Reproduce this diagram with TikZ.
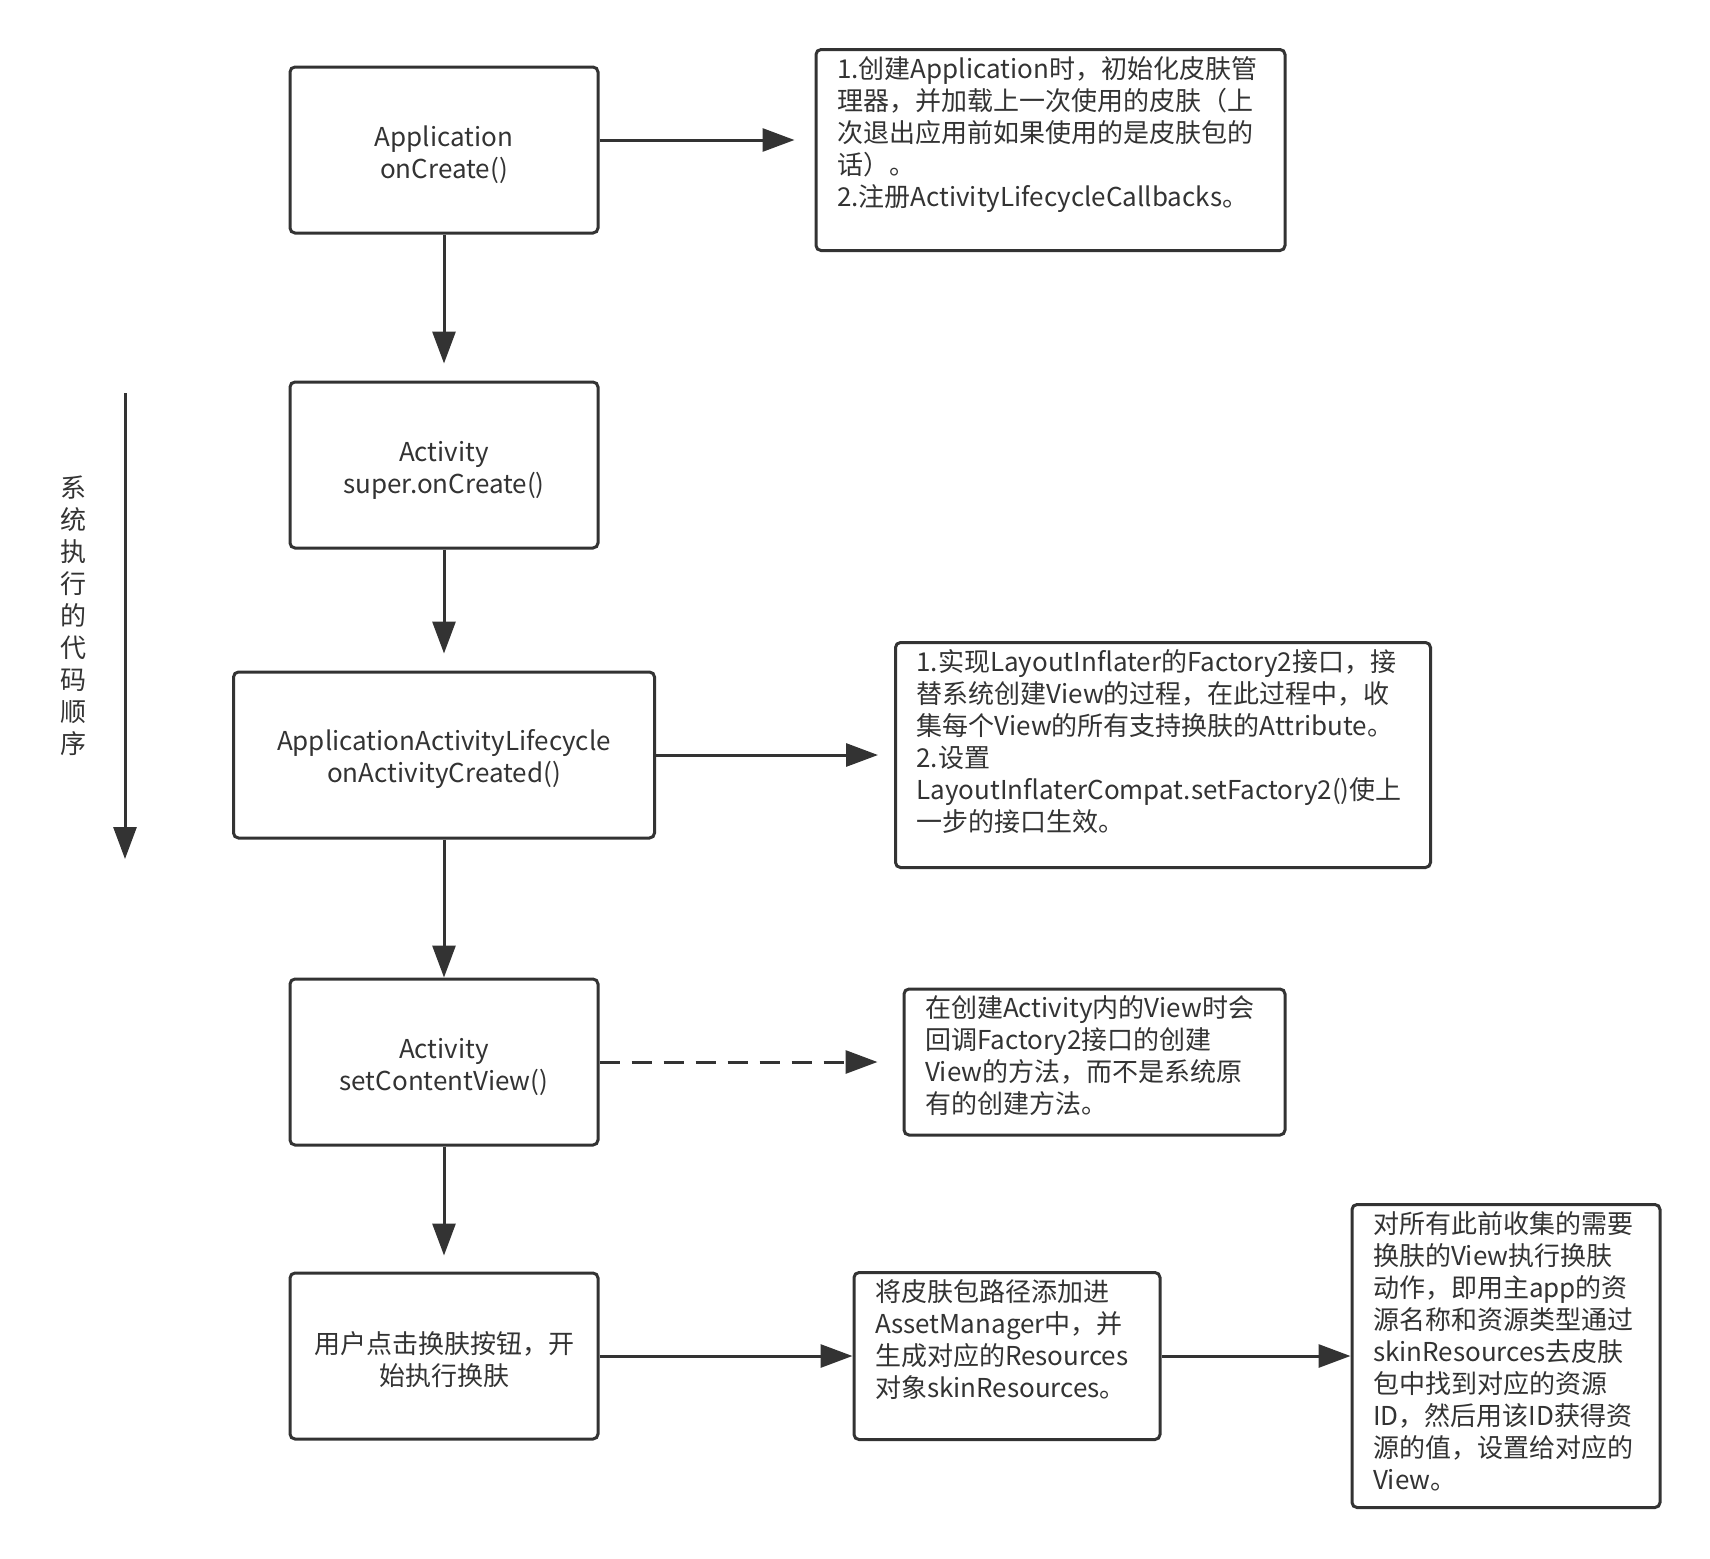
\documentclass[tikz,border=0pt]{standalone}
\usepackage{fontspec}
\setmainfont{Noto Sans CJK SC}
\usetikzlibrary{arrows.meta, positioning}
\definecolor{linegray}{RGB}{51,51,51}
\newcommand{\notetext}[3]{\parbox[c][#2][t]{#1}{\raggedright #3}}
\newcommand{\toppad}{\rule{0pt}{30pt}}

\begin{document}
\begin{tikzpicture}[
    x=1pt, y=-1pt,
    font=\fontsize{26pt}{32pt}\selectfont,
    text=linegray,
    block/.style={rectangle, draw=linegray, line width=3pt, rounded corners=5pt, minimum width=308pt, minimum height=166pt, align=center},
    note/.style={rectangle, draw=linegray, line width=3pt, rounded corners=5pt, inner xsep=21pt, inner ysep=7pt},
    arrow/.style={-{Triangle[length=32pt, width=23pt]}, line width=3pt, draw=linegray}
]
    \useasboundingbox (0,0) rectangle (1710,1558);

    % Main column: call order
    \node[block] (app) at (444,150) {\toppad Application\\onCreate()};
    \node[block, below=146pt of app] (activity) {\toppad Activity\\super.onCreate()};
    \node[block, below=121pt of activity, minimum width=421pt] (lifecycle) {\toppad ApplicationActivityLifecycle\\onActivityCreated()};
    \node[block, below=138pt of lifecycle] (setcv) {\toppad Activity\\setContentView()};
    \node[block, below=125pt of setcv] (userclick) {\toppad 用户点击换肤按钮，开\\始执行换肤};

    % Notes on the right
    \node[note, right=215pt of app] (initnote) {\notetext{427pt}{187pt}{1.创建Application时，初始化皮肤管\\理器，并加载上一次使用的皮肤（上\\次退出应用前如果使用的是皮肤包的\\话）。\\2.注册ActivityLifecycleCallbacks。}};
    \node[note, right=238pt of lifecycle] (layoutnote) {\notetext{493pt}{211pt}{1.实现LayoutInflater的Factory2接口，接\\替系统创建View的过程，在此过程中，收\\集每个View的所有支持换肤的Attribute。\\2.设置\\LayoutInflaterCompat.setFactory2()使上\\一步的接口生效。}};
    \node[note, right=303pt of setcv] (factorynote) {\notetext{339pt}{132pt}{在创建Activity内的View时会\\回调Factory2接口的创建\\View的方法，而不是系统原\\有的创建方法。}};
    \node[note, right=253pt of userclick] (resnote) {\notetext{264pt}{153pt}{将皮肤包路径添加进\\AssetManager中，并\\生成对应的Resources\\对象skinResources。}};
    \node[note, right=189pt of resnote] (applynote) {\notetext{266pt}{289pt}{对所有此前收集的需要\\换肤的View执行换肤\\动作，即用主app的资\\源名称和资源类型通过\\skinResources去皮肤\\包中找到对应的资源\\ID，然后用该ID获得资\\源的值，设置给对应的\\View。}};

    % Order arrow on the left
    \coordinate (seqtop) at (125,393);
    \coordinate (seqend) at (125,859);
    \node[align=center] (seqlabel) at (73,616) {系\\统\\执\\行\\的\\代\\码\\顺\\序};

    % Connections
    \draw[arrow] (seqtop) -- (seqend);
    \draw[arrow, shorten >=17pt] (app) -- (activity);
    \draw[arrow, shorten >=17pt] (activity) -- (lifecycle);
    \draw[arrow] (lifecycle) -- (setcv);
    \draw[arrow, shorten >=16pt] (setcv) -- (userclick);
    \draw[arrow, shorten >=20pt] ([yshift=10pt]app.east) -- ([yshift=10pt]initnote.west);
    \draw[arrow, shorten >=16pt] (lifecycle) -- (layoutnote);
    \draw[arrow, dash pattern=on 20pt off 12pt, shorten >=25pt] (setcv) -- (factorynote);
    \draw[arrow] (userclick) -- (resnote);
    \draw[arrow] (resnote) -- (applynote);
\end{tikzpicture}
\end{document}
